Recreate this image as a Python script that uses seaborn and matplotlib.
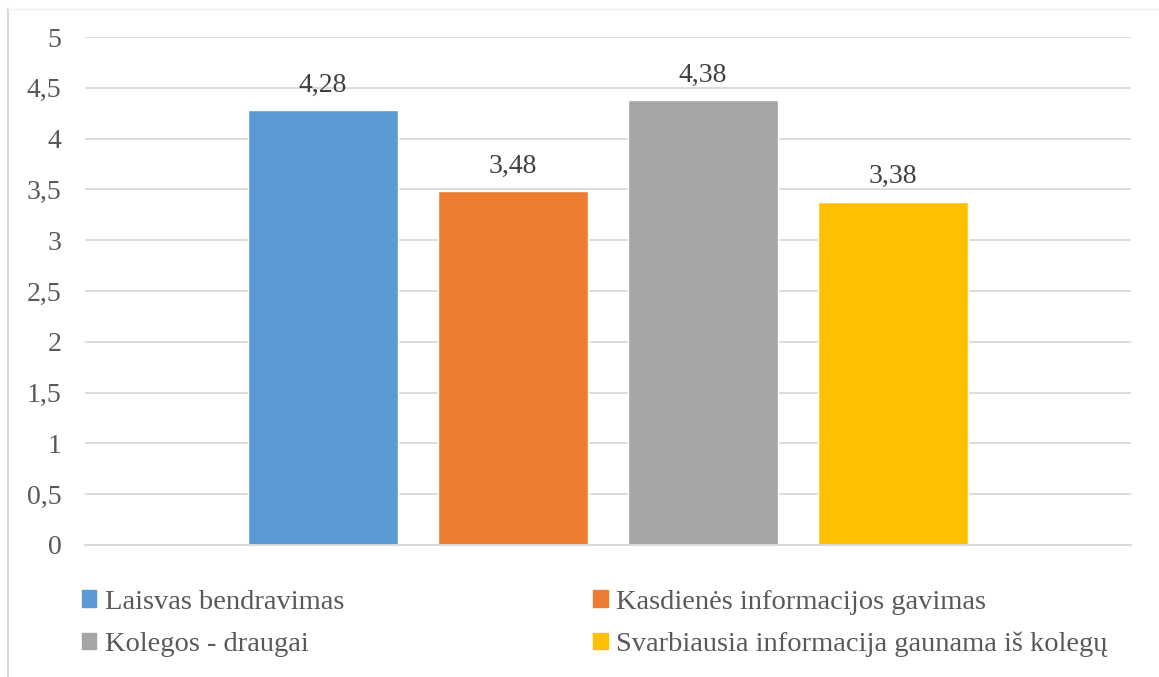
import matplotlib
matplotlib.use('Agg')
import matplotlib.pyplot as plt
import matplotlib.lines as mlines
import matplotlib.patches as mpatches
import seaborn as sns
import pandas as pd

# Duomenys
kategorija = ['Vertinimas']
serijos = [
    'Laisvas bendravimas',
    'Kasdienės informacijos gavimas',
    'Kolegos - draugai',
    'Svarbiausia informacija gaunama iš kolegų',
]
reiksmes = [4.28, 3.48, 4.38, 3.38]
spalvos = ['#5B9BD5', '#ED7D31', '#A5A5A5', '#FFC000']
y_ticks = [0, 0.5, 1, 1.5, 2, 2.5, 3, 3.5, 4, 4.5, 5]

df = pd.DataFrame({'kat': kategorija * len(serijos), 'serija': serijos, 'reiksme': reiksmes})

sns.set_style('white')
plt.rcParams['font.family'] = ['Liberation Serif', 'DejaVu Serif']

fig = plt.figure(figsize=(11.59, 6.77), dpi=100)
ax = fig.add_axes([0.0733, 0.195, 0.9025, 0.7503])

sns.barplot(
    data=df, x='kat', y='reiksme', hue='serija',
    hue_order=serijos, palette=spalvos,
    width=0.727, gap=0.21, saturation=1, legend=False, ax=ax,
)

ax.set_xlim(-0.5, 0.5)
ax.set_ylim(0, 5)
ax.set_yticks(y_ticks)
ax.set_yticklabels([f'{v:g}'.replace('.', ',') for v in y_ticks], fontsize=20, color='#595959')
ax.tick_params(axis='y', length=0, pad=17)
ax.set_xticks([])
ax.set_xlabel('')
ax.set_ylabel('')
ax.grid(axis='y', color='#D9D9D9', linewidth=1.3)
ax.set_axisbelow(True)
for s in ['top', 'right', 'left']:
    ax.spines[s].set_visible(False)
ax.spines['bottom'].set_color('#D9D9D9')
ax.spines['bottom'].set_linewidth(1.3)

for cont, v in zip(ax.containers, reiksmes):
    ax.bar_label(cont, labels=[f'{v:.2f}'.replace('.', ',')], padding=9,
                 fontsize=20, color='#404040')

# Legenda (eilutėmis, kaip Excel)
handles = [mpatches.Patch(color=c, label=s) for s, c in zip(serijos, spalvos)]
order = [0, 2, 1, 3]
fig.legend([handles[i] for i in order], [serijos[i] for i in order],
           ncol=2, loc='upper left', bbox_to_anchor=(0.0708, 0.129),
           frameon=False, fontsize=20.5, labelcolor='#595959',
           handlelength=0.5, handleheight=0.5, handletextpad=0.3,
           columnspacing=8.75, labelspacing=0.6, borderpad=0, borderaxespad=0)

# Rėmelis
fig.add_artist(mlines.Line2D([8 / 1159, 8 / 1159], [0, 1 - 9 / 677], color='#D9D9D9', linewidth=1.5))
fig.add_artist(mlines.Line2D([8 / 1159, 1], [1 - 9 / 677, 1 - 9 / 677], color='#F2F2F2', linewidth=1))

plt.savefig('out.png', dpi=100)
